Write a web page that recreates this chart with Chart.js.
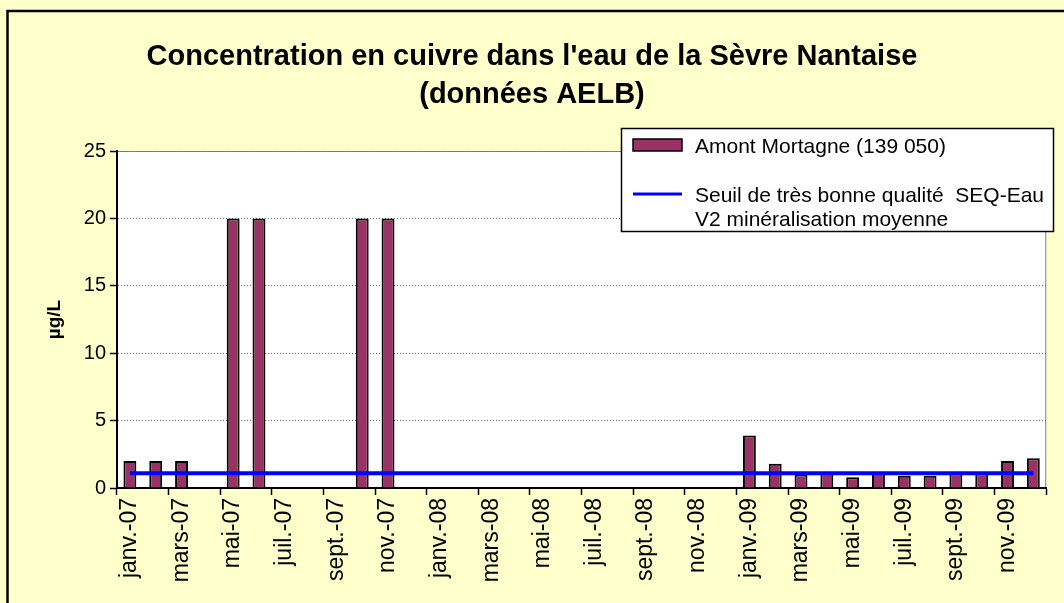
<!DOCTYPE html>
<html lang="fr">
<head>
<meta charset="utf-8">
<title>Cuivre - Sèvre Nantaise</title>
<script src="https://cdn.jsdelivr.net/npm/chart.js@4/dist/chart.umd.min.js"></script>
<style>
  html, body { margin: 0; padding: 0; background: #ffffcc; }
  #wrap { width: 1064px; height: 603px; }
</style>
</head>
<body>
<div id="wrap"><canvas id="cuivreChart" width="1064" height="603"></canvas></div>
<script>
// months janv.-07 .. déc.-09
const months = [
    'janv.-07', 'févr.-07', 'mars-07', 'avr.-07', 'mai-07', 'juin-07',
    'juil.-07', 'août-07', 'sept.-07', 'oct.-07', 'nov.-07', 'déc.-07',
    'janv.-08', 'févr.-08', 'mars-08', 'avr.-08', 'mai-08', 'juin-08',
    'juil.-08', 'août-08', 'sept.-08', 'oct.-08', 'nov.-08', 'déc.-08',
    'janv.-09', 'févr.-09', 'mars-09', 'avr.-09', 'mai-09', 'juin-09',
    'juil.-09', 'août-09', 'sept.-09', 'oct.-09', 'nov.-09', 'déc.-09'
];

// Amont Mortagne (139 050), µg/L
const amontMortagne = [
    2, 2, 2, null, 20, 20, null, null, null, 20, 20, null,
    null, null, null, null, null, null, null, null, null, null, null, null,
    3.9, 1.8, 1.0, 1.2, 0.8, 1.2, 0.9, 0.9, 1.1, 1.1, 2, 2.2
];

// seuil très bonne qualité SEQ-Eau V2
const seuil = [
    1.1, 1.1, 1.1, 1.1, 1.1, 1.1, 1.1, 1.1, 1.1, 1.1, 1.1, 1.1,
    1.1, 1.1, 1.1, 1.1, 1.1, 1.1, 1.1, 1.1, 1.1, 1.1, 1.1, 1.1,
    1.1, 1.1, 1.1, 1.1, 1.1, 1.1, 1.1, 1.1, 1.1, 1.1, 1.1, 1.1
];

const yTicks = [0, 5, 10, 15, 20, 25];

const titleLines = [
    "Concentration en cuivre dans l'eau de la Sèvre Nantaise",
    '(données AELB)'
];
const legendLabels = [
    'Amont Mortagne (139 050)',
    ['Seuil de très bonne qualité  SEQ-Eau', 'V2 minéralisation moyenne']
];

const FONT = '"Liberation Sans", Arial, sans-serif';
const BAR_COLOR = '#993366';
const LINE_COLOR = '#0000ff';

// background, outer frame, plot frame, titles
const decor = {
    id: 'decor',
    beforeDraw(chart) {
        const ctx = chart.ctx;
        const a = chart.chartArea;
        ctx.save();
        ctx.fillStyle = '#ffffcc';
        ctx.fillRect(0, 0, chart.width, chart.height);
        ctx.fillStyle = '#ffffff';
        ctx.fillRect(a.left, a.top, a.right - a.left, a.bottom - a.top);
        ctx.strokeStyle = '#808080';
        ctx.lineWidth = 1;
        ctx.strokeRect(a.left + 0.5, a.top + 0.5, a.right - a.left - 1, a.bottom - a.top);

        // outer frame (left and top visible)
        ctx.strokeStyle = '#000000';
        ctx.lineWidth = 2.5;
        ctx.beginPath();
        ctx.moveTo(7.5, chart.height + 5);
        ctx.lineTo(7.5, 11);
        ctx.lineTo(chart.width + 5, 11);
        ctx.stroke();

        ctx.fillStyle = '#000000';
        ctx.textAlign = 'center';
        ctx.textBaseline = 'middle';
        ctx.font = 'bold 29px ' + FONT;
        ctx.fillText(titleLines[0], chart.width / 2, 57);
        ctx.fillText(titleLines[1], chart.width / 2, 95);

        ctx.translate(55, (a.top + a.bottom) / 2);
        ctx.rotate(-Math.PI / 2);
        ctx.font = 'bold 19px ' + FONT;
        ctx.fillText('µg/L', 0, 0);
        ctx.restore();
    },
    afterDraw(chart) {
        const ctx = chart.ctx;
        const box = { x: 621.5, y: 128.5, w: 432, h: 103 };
        ctx.save();
        ctx.fillStyle = '#ffffff';
        ctx.fillRect(box.x, box.y, box.w, box.h);
        ctx.beginPath();
        ctx.rect(box.x, box.y, box.w, box.h);
        ctx.clip();

        ctx.fillStyle = BAR_COLOR;
        ctx.fillRect(633, 139, 49, 12);
        ctx.strokeStyle = '#000000';
        ctx.lineWidth = 1.5;
        ctx.strokeRect(633, 139, 49, 12);

        ctx.strokeStyle = LINE_COLOR;
        ctx.lineWidth = 3;
        ctx.beginPath();
        ctx.moveTo(633, 194);
        ctx.lineTo(682, 194);
        ctx.stroke();

        ctx.fillStyle = '#000000';
        ctx.font = '21px ' + FONT;
        ctx.textAlign = 'left';
        ctx.textBaseline = 'alphabetic';
        ctx.fillText(legendLabels[0], 695, 153);
        ctx.fillText(legendLabels[1][0], 695, 202);
        ctx.fillText(legendLabels[1][1], 695, 226);
        ctx.restore();

        ctx.save();
        ctx.strokeStyle = '#000000';
        ctx.lineWidth = 1.5;
        ctx.strokeRect(box.x, box.y, box.w, box.h);
        ctx.restore();
    }
};

new Chart(document.getElementById('cuivreChart'), {
    type: 'bar',
    data: {
        labels: months,
        datasets: [
            {
                type: 'bar',
                label: legendLabels[0],
                data: amontMortagne,
                backgroundColor: BAR_COLOR,
                borderColor: '#000000',
                borderWidth: 2,
                barPercentage: 0.5,
                categoryPercentage: 1,
                order: 1
            },
            {
                type: 'line',
                label: legendLabels[1].join(' '),
                data: seuil,
                borderColor: LINE_COLOR,
                borderWidth: 4,
                pointRadius: 0,
                tension: 0,
                order: 0
            }
        ]
    },
    options: {
        responsive: false,
        animation: false,
        events: [],
        layout: { padding: { top: 151, right: 5, left: 0, bottom: 0 } },
        plugins: {
            legend: { display: false },
            title: { display: false },
            tooltip: { enabled: false }
        },
        scales: {
            x: {
                offset: true,
                grid: {
                    offset: true,
                    drawOnChartArea: false,
                    drawTicks: true,
                    tickLength: 7,
                    tickWidth: 1.5,
                    tickColor: ctx => (ctx.index === undefined || ctx.index % 2 === 0) ? '#000000' : 'rgba(0,0,0,0)'
                },
                border: { color: '#000000', width: 2 },
                ticks: {
                    autoSkip: false,
                    maxRotation: 90,
                    minRotation: 90,
                    padding: 3,
                    color: '#000000',
                    font: { family: FONT, size: 23 },
                    callback: (v, i) => (i % 2 === 0 ? months[i] : '')
                },
                afterFit: scale => { scale.height = 603 - 488; }
            },
            y: {
                min: yTicks[0],
                max: yTicks[yTicks.length - 1],
                afterBuildTicks: scale => { scale.ticks = yTicks.map(v => ({ value: v })); },
                grid: {
                    color: '#707070',
                    lineWidth: 1,
                    tickLength: 7,
                    tickColor: '#000000',
                    tickBorderDash: [],
                    tickWidth: 1.5
                },
                // in v4 the dash of the grid lines is read from border.dash
                border: { color: '#000000', width: 2, dash: [1, 2] },
                ticks: {
                    padding: 4,
                    color: '#000000',
                    font: { family: FONT, size: 20 }
                },
                afterFit: scale => { scale.width = 117; }
            }
        }
    },
    plugins: [decor]
});
</script>
</body>
</html>
